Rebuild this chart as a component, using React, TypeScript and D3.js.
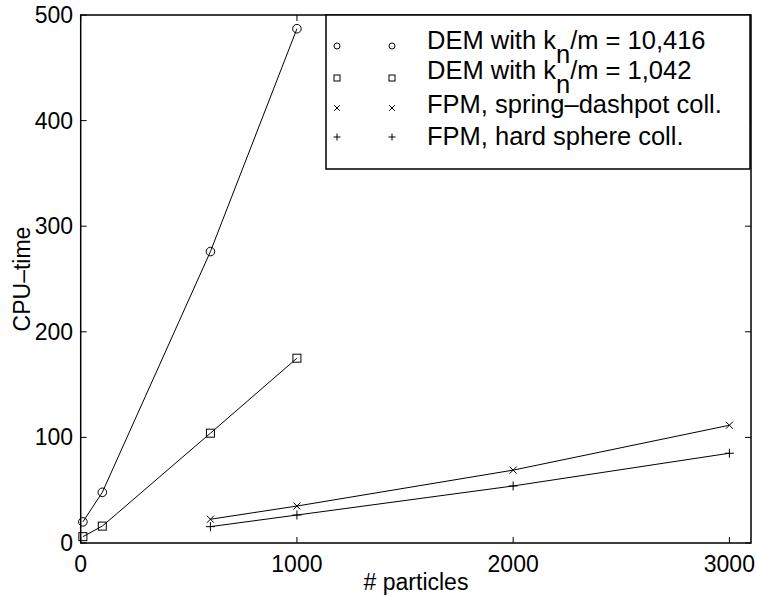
import React from "react";
import * as d3 from "d3";

// CPU-time vs number of particles for DEM and FPM simulations
const demStiffX = [10, 100, 600, 1000];
const demStiffY = [20, 48, 276, 487];
const demSoftX = [10, 100, 600, 1000];
const demSoftY = [6, 16, 104, 175];
const fpmSpringX = [600, 1000, 2000, 3000];
const fpmSpringY = [22.5, 35, 69, 111.5];
const fpmHardX = [600, 1000, 2000, 3000];
const fpmHardY = [15.5, 26.5, 54, 85];

const xTicks = [0, 1000, 2000, 3000];
const yTicks = [0, 100, 200, 300, 400, 500];

const W = 757;
const H = 598;
const M = { left: 80.7, right: 751, top: 15, bottom: 543 };
const FONT = "'Liberation Sans', Arial, sans-serif";

type Shape = "circle" | "square" | "x" | "plus";

function Marker({ shape, cx, cy, s }: { shape: Shape; cx: number; cy: number; s: number }) {
  const common = { fill: "none", stroke: "#000", strokeWidth: 1 };
  if (shape === "circle") return <circle cx={cx} cy={cy} r={s} {...common} />;
  if (shape === "square")
    return <rect x={cx - s} y={cy - s} width={2 * s} height={2 * s} {...common} />;
  if (shape === "x")
    return (
      <path
        d={`M${cx - s},${cy - s}L${cx + s},${cy + s}M${cx - s},${cy + s}L${cx + s},${cy - s}`}
        {...common}
      />
    );
  return <path d={`M${cx - s},${cy}L${cx + s},${cy}M${cx},${cy - s}L${cx},${cy + s}`} {...common} />;
}

export default function App() {
  const x = d3.scaleLinear().domain([0, 3100]).range([M.left, M.right]);
  const y = d3.scaleLinear().domain([0, 500]).range([M.bottom, M.top]);
  const line = d3
    .line<[number, number]>()
    .x((d) => x(d[0]))
    .y((d) => y(d[1]));

  const series: { xs: number[]; ys: number[]; shape: Shape; size: number }[] = [
    { xs: demStiffX, ys: demStiffY, shape: "circle", size: 4.3 },
    { xs: demSoftX, ys: demSoftY, shape: "square", size: 4 },
    { xs: fpmSpringX, ys: fpmSpringY, shape: "x", size: 3.5 },
    { xs: fpmHardX, ys: fpmHardY, shape: "plus", size: 4.5 },
  ];

  const legendRows: { shape: Shape; size: number; main: string; sub?: string; rest?: string }[] = [
    { shape: "circle", size: 3, main: "DEM with k", sub: "n", rest: "/m = 10,416" },
    { shape: "square", size: 3, main: "DEM with k", sub: "n", rest: "/m = 1,042" },
    { shape: "x", size: 2.8, main: "FPM, spring\u2013dashpot coll." },
    { shape: "plus", size: 3.5, main: "FPM, hard sphere coll." },
  ];
  const rowMarkerY = [46, 78, 108, 137];
  const rowTextY = [49, 79, 113, 145];

  return (
    <svg
      width={W}
      height={H}
      style={{ position: "absolute", left: 0, top: 0, background: "#fff" }}
      fontFamily={FONT}
    >
      <rect x={0} y={0} width={W} height={H} fill="#fff" />

      {/* data */}
      {series.map((s, i) => {
        const pts: [number, number][] = s.xs.map((v, j) => [v, s.ys[j]]);
        return (
          <g key={i}>
            <path d={line(pts) || ""} fill="none" stroke="#000" strokeWidth={1} />
            {pts.map((p, j) => (
              <Marker key={j} shape={s.shape} cx={x(p[0])} cy={y(p[1])} s={s.size} />
            ))}
          </g>
        );
      })}

      {/* ticks on all four sides */}
      {xTicks.map((t) => (
        <g key={"xt" + t}>
          <line x1={x(t)} x2={x(t)} y1={M.bottom} y2={M.bottom - 6} stroke="#000" />
          <line x1={x(t)} x2={x(t)} y1={M.top} y2={M.top + 6} stroke="#000" />
          <text x={x(t)} y={572} textAnchor="middle" fontSize={23}>
            {t}
          </text>
        </g>
      ))}
      {yTicks.map((t) => (
        <g key={"yt" + t}>
          <line x1={M.left} x2={M.left + 6} y1={y(t)} y2={y(t)} stroke="#000" />
          <line x1={M.right} x2={M.right - 6} y1={y(t)} y2={y(t)} stroke="#000" />
          <text x={73} y={y(t) + 8} textAnchor="end" fontSize={23}>
            {t}
          </text>
        </g>
      ))}

      {/* box */}
      <rect
        x={M.left}
        y={M.top}
        width={M.right - M.left}
        height={M.bottom - M.top}
        fill="none"
        stroke="#000"
        strokeWidth={1.5}
      />

      {/* axis titles */}
      <text x={416} y={590} textAnchor="middle" fontSize={23}>
        # particles
      </text>
      <text
        transform={`translate(30,${(M.top + M.bottom) / 2}) rotate(-90)`}
        textAnchor="middle"
        fontSize={23}
      >
        CPU{"\u2013"}time
      </text>

      {/* legend */}
      <g>
        <rect x={326} y={15} width={424} height={154} fill="#fff" stroke="#000" strokeWidth={1.5} />
        {legendRows.map((r, i) => (
          <g key={"lg" + i}>
            <Marker shape={r.shape} cx={337} cy={rowMarkerY[i]} s={r.size} />
            <Marker shape={r.shape} cx={392} cy={rowMarkerY[i]} s={r.size} />
            <text x={427} y={rowTextY[i]} fontSize={25.5}>
              {r.main}
              {r.sub && <tspan dy={14}>{r.sub}</tspan>}
              {r.rest && <tspan dy={-14}>{r.rest}</tspan>}
            </text>
          </g>
        ))}
      </g>
    </svg>
  );
}
